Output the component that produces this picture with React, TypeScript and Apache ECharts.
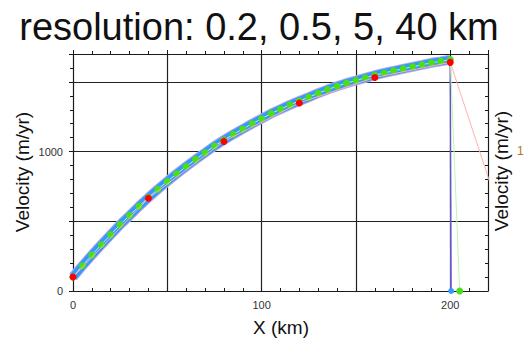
import React, { useEffect, useRef } from "react";
import * as echarts from "echarts";

// ---- data ----
const x5km = [0, 5, 10, 15, 20, 25, 30, 35, 40, 45, 50, 55, 60, 65, 70, 75, 80, 85, 90, 95, 100,
  105, 110, 115, 120, 125, 130, 135, 140, 145, 150, 155, 160, 165, 170, 175, 180, 185, 190, 195, 200];
const velocity5km = [100, 181, 258, 332, 404, 476, 541, 608, 670, 730, 786, 841, 893, 944, 992, 1040,
  1083, 1124, 1162, 1200, 1236, 1273, 1304, 1335, 1363, 1390, 1419, 1445, 1469, 1491, 1510, 1529, 1548,
  1564, 1579, 1594, 1608, 1622, 1637, 1647, 1660];
const x40km = [0, 40, 80, 120, 160, 200];
const velocity40km = [100, 665, 1073, 1349, 1532, 1640];
// first node past the end of the domain for each resolution (0.2, 0.5, 5, 40 km)
const endX = [200.2, 200.5, 205, 240];
const endV = [0, 0, 0, 0];
const xTickLabels = ["0", "100", "200"];
const yTickLabels = ["0", "1000"];
const titleText = "resolution: 0.2, 0.5, 5, 40 km";
const xName = "X (km)";
const yName = "Velocity (m/yr)";
const clippedNeighbourLabel = "1";

const pairs = (xs: number[], ys: number[]) => xs.map((x, i) => [x, ys[i]]);

export default function App() {
  const ref = useRef<HTMLDivElement>(null);
  useEffect(() => {
    if (!ref.current) return;
    const chart = echarts.init(ref.current, null, { renderer: "svg" });
    const curve = pairs(x5km, velocity5km);
    const last5 = curve[curve.length - 1];
    const red = pairs(x40km, velocity40km);
    const font = "Liberation Sans";
    const axisCol = "#1a1a1a";
    const xBase = {
      type: "value" as const,
      min: 0,
      max: 220,
      interval: 50,
      axisLine: { show: true, onZero: false, lineStyle: { color: axisCol, width: 1 } },
      minorTick: { show: true, splitNumber: 5, length: 3, lineStyle: { color: axisCol } },
      minorSplitLine: { show: false },
    };
    const yBase = {
      type: "value" as const,
      min: 0,
      max: 1700,
      interval: 500,
      axisLine: { show: true, onZero: false, lineStyle: { color: axisCol, width: 1 } },
      minorTick: { show: true, splitNumber: 5, length: 3, lineStyle: { color: axisCol } },
      minorSplitLine: { show: false },
    };
    chart.setOption({
      animation: false,
      backgroundColor: "#ffffff",
      grid: { left: 73, top: 54, width: 415, height: 237 },
      xAxis: [
        {
          ...xBase,
          position: "bottom",
          axisTick: { show: true, inside: true, length: 4, lineStyle: { color: axisCol } },
          splitLine: { show: true, lineStyle: { color: "#222", width: 1.2 } },
          axisLabel: {
            show: true,
            margin: 8,
            fontFamily: font,
            fontSize: 11,
            color: "#333",
            showMaxLabel: false,
            formatter: (v: number) => (xTickLabels.includes(String(v)) ? String(v) : ""),
          },
        },
        {
          ...xBase,
          position: "top",
          axisTick: { show: true, inside: false, length: 4, lineStyle: { color: axisCol } },
          splitLine: { show: false },
          axisLabel: { show: false },
        },
      ],
      yAxis: [
        {
          ...yBase,
          position: "left",
          axisTick: { show: true, inside: false, length: 4, lineStyle: { color: axisCol } },
          splitLine: { show: true, lineStyle: { color: "#222", width: 1.2 } },
          axisLabel: {
            show: true,
            margin: 10,
            fontFamily: font,
            fontSize: 11,
            color: "#333",
            showMaxLabel: false,
            formatter: (v: number) => (yTickLabels.includes(String(v)) ? String(v) : ""),
          },
        },
        {
          ...yBase,
          position: "right",
          axisTick: { show: true, inside: true, length: 4, lineStyle: { color: axisCol } },
          splitLine: { show: false },
          axisLabel: { show: false },
        },
      ],
      series: [
        {
          name: "0.2 km",
          type: "line",
          data: curve,
          showSymbol: false,
          symbol: "none",
          lineStyle: { color: "#b4a8f4", width: 10 },
          z: 2,
        },
        {
          name: "0.5 km",
          type: "line",
          data: curve,
          showSymbol: false,
          symbol: "none",
          lineStyle: { color: "#3598fb", width: 8 },
          z: 3,
        },
        {
          name: "0.2 km end",
          type: "line",
          data: [last5, [endX[0], endV[0]]],
          symbol: "none",
          lineStyle: { color: "#6a5acd", width: 1.2 },
          z: 3,
        },
        {
          name: "0.5 km end",
          type: "line",
          data: [last5, [endX[1], endV[1]]],
          symbol: "circle",
          symbolSize: (_v: any, p: any) => (p.dataIndex === 1 ? 6 : 0),
          itemStyle: { color: "#3598fb" },
          lineStyle: { color: "#6058c8", width: 1 },
          z: 4,
        },
        {
          name: "5 km",
          type: "line",
          data: [...curve, [endX[2], endV[2]]],
          symbol: "circle",
          symbolSize: 7,
          showAllSymbol: true,
          itemStyle: { color: "#48e016" },
          lineStyle: { color: "#c0f5b8", width: 1 },
          z: 5,
        },
        {
          name: "40 km",
          type: "line",
          data: [...red, [endX[3], endV[3]]],
          symbol: "circle",
          symbolSize: 7,
          showAllSymbol: true,
          itemStyle: { color: "#ff0000" },
          lineStyle: { color: "#ffb0b0", width: 1 },
          z: 6,
        },
      ],
      graphic: [
        {
          type: "text",
          x: 259,
          y: 27,
          style: {
            text: titleText,
            font: `38px "${font}"`,
            fill: "#111",
            textAlign: "center",
            textVerticalAlign: "middle",
          },
        },
        {
          type: "text",
          x: 281,
          y: 327,
          style: {
            text: xName,
            font: `19px "${font}"`,
            fill: "#111",
            textAlign: "center",
            textVerticalAlign: "middle",
          },
        },
        {
          type: "text",
          x: 22,
          y: 172,
          rotation: Math.PI / 2,
          style: {
            text: yName,
            font: `19px "${font}"`,
            fill: "#111",
            textAlign: "center",
            textVerticalAlign: "middle",
          },
        },
        {
          type: "text",
          x: 501,
          y: 171,
          rotation: Math.PI / 2,
          style: {
            text: yName,
            font: `19px "${font}"`,
            fill: "#111",
            textAlign: "center",
            textVerticalAlign: "middle",
          },
        },
        {
          type: "text",
          x: 517,
          y: 151,
          style: {
            text: clippedNeighbourLabel,
            font: `12px "${font}"`,
            fill: "#b87020",
            textAlign: "left",
            textVerticalAlign: "middle",
          },
        },
      ],
    });
    return () => chart.dispose();
  }, []);
  return (
    <div
      ref={ref}
      style={{ position: "fixed", left: 0, top: 0, width: 524, height: 338, background: "#fff" }}
    />
  );
}
